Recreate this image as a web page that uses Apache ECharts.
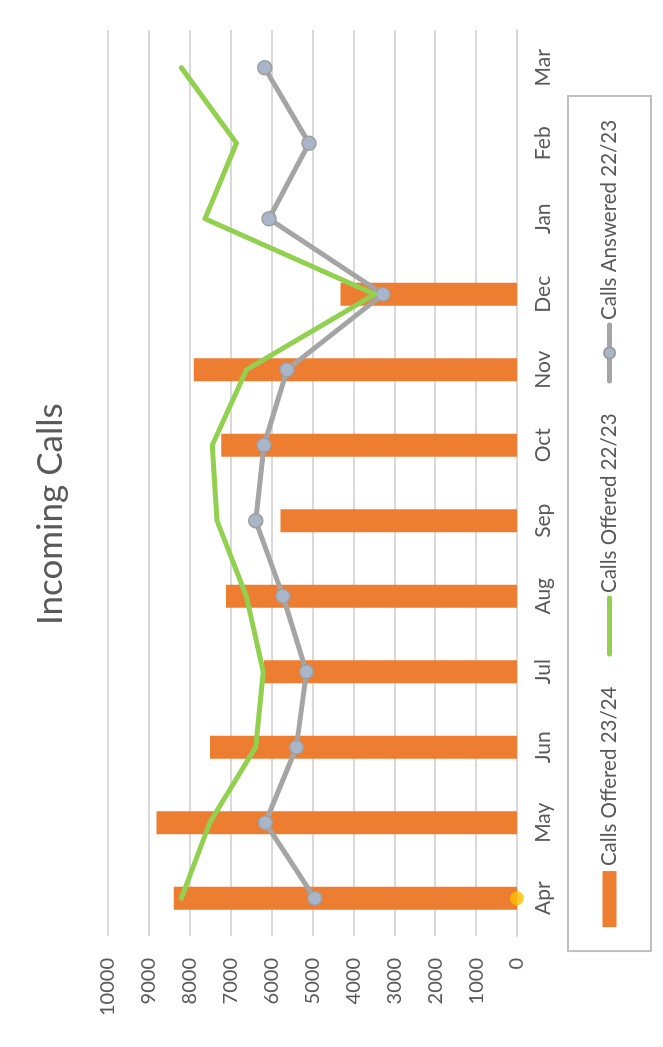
<!DOCTYPE html>
<html>
<head>
<meta charset="utf-8">
<title>Incoming Calls</title>
<script src="https://cdn.jsdelivr.net/npm/echarts@6/dist/echarts.min.js"></script>
<style>
  html, body { margin: 0; padding: 0; background: #fff; }
  #page { position: relative; width: 663px; height: 1047px; overflow: hidden; }
  #frame {
    position: absolute; left: 4px; top: -10px; width: 700px; height: 1048px;
    border-left: 2px solid #d9d9d9; border-bottom: 2px solid #d9d9d9;
  }
  /* chart is laid out landscape, then turned a quarter turn to the left */
  #chart {
    position: absolute; left: 0; top: 1047px; width: 1047px; height: 663px;
    transform-origin: 0 0; transform: rotate(-90deg);
  }
</style>
</head>
<body>
<div id="page">
  <div id="frame"></div>
  <div id="chart"></div>
</div>
<script>
const months = ['Apr', 'May', 'Jun', 'Jul', 'Aug', 'Sep', 'Oct', 'Nov', 'Dec', 'Jan', 'Feb', 'Mar'];
const offered2324 = [8394, 8817, 7506, 6186, 7115, 5785, 7228, 7905, 4318, null, null, null];
const offered2223 = [8206, 7513, 6389, 6205, 6616, 7335, 7450, 6616, 3480, 7630, 6860, 8206];
const answered2223 = [4946, 6152, 5394, 5149, 5721, 6389, 6186, 5623, 3276, 6064, 5086, 6169];
const answered2324 = [0, null, null, null, null, null, null, null, null, null, null, null];

const FONT = 'Lato, "Open Sans", sans-serif';
const TEXT = '#595959';
const GRID_LINE = '#d9d9d9';

const chart = echarts.init(document.getElementById('chart'), null, { renderer: 'canvas' });

chart.setOption({
  animation: false,
  backgroundColor: '#fff',
  textStyle: { fontFamily: FONT },
  title: {
    text: 'Incoming Calls',
    left: 422,
    top: 33,
    padding: 0,
    textStyle: { fontFamily: FONT, fontSize: 35, fontWeight: 'normal', color: TEXT },
  },
  legend: {
    left: 'center',
    top: 568,
    padding: [31, 24],
    borderColor: '#bfbfbf',
    borderWidth: 2,
    itemWidth: 56,
    itemHeight: 14,
    itemGap: 30,
    lineStyle: { width: 5 },
    textStyle: { fontFamily: FONT, fontSize: 20.5, color: TEXT },
    data: [
      { name: 'Calls Offered 23/24', icon: 'rect' },
      { name: 'Calls Offered 22/23', itemStyle: { opacity: 0 } },
      { name: 'Calls Answered 22/23' },
    ],
  },
  grid: { left: 111, right: 30, top: 108, bottom: 146 },
  xAxis: {
    type: 'category',
    data: months,
    boundaryGap: true,
    axisLine: { lineStyle: { color: GRID_LINE, width: 2 } },
    axisTick: { show: false },
    axisLabel: { color: TEXT, fontFamily: FONT, fontSize: 21, margin: 16 },
  },
  yAxis: {
    type: 'value',
    min: 0,
    max: 10000,
    interval: 1000,
    axisLine: { show: false },
    axisTick: { show: false },
    axisLabel: {
      color: TEXT, fontFamily: FONT, fontSize: 20, margin: 22,
      formatter: (value) => String(value),
    },
    splitLine: { lineStyle: { color: GRID_LINE, width: 2 } },
  },
  series: [
    {
      name: 'Calls Offered 23/24',
      type: 'bar',
      data: offered2324,
      barWidth: 23,
      itemStyle: { color: '#ED7D31' },
    },
    {
      name: 'Calls Answered 22/23',
      type: 'line',
      data: answered2223,
      symbol: 'circle',
      symbolSize: 14,
      showSymbol: true,
      lineStyle: { color: '#A5A5A5', width: 5, cap: 'round', join: 'round' },
      itemStyle: { color: '#A9B5C9', borderColor: '#9E9E9E', borderWidth: 1.5 },
      z: 3,
    },
    {
      name: 'Calls Offered 22/23',
      type: 'line',
      data: offered2223,
      symbol: 'none',
      lineStyle: { color: '#92D050', width: 5, cap: 'round', join: 'round' },
      itemStyle: { color: '#92D050' },
      z: 4,
    },
    {
      name: 'Calls Answered 23/24',
      type: 'scatter',
      data: answered2324,
      symbol: 'circle',
      symbolSize: 14,
      itemStyle: { color: '#FFC000' },
      z: 5,
    },
  ],
});
</script>
</body>
</html>
